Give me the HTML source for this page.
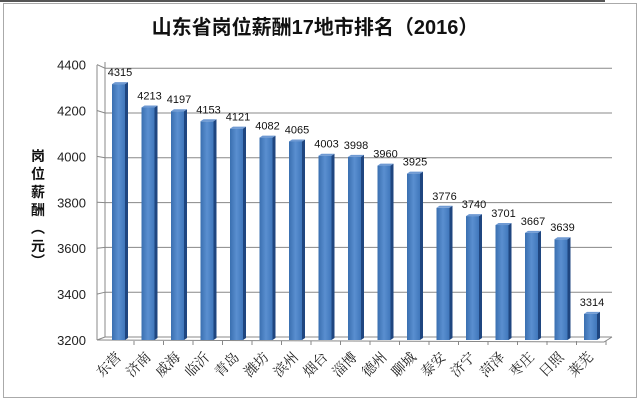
<!DOCTYPE html>
<html><head><meta charset="utf-8"><style>
html,body{margin:0;padding:0;background:#fff;width:640px;height:403px;overflow:hidden}
svg text{font-family:"Liberation Sans","Noto Sans CJK SC",sans-serif}
svg #xl text{font-family:"Liberation Serif","Noto Serif CJK SC",serif}
</style></head><body>
<svg width="640" height="403" viewBox="0 0 640 403" xmlns="http://www.w3.org/2000/svg">
<defs>
<linearGradient id="bf" x1="0" x2="1"><stop offset="0" stop-color="#3a6fb0"/><stop offset="0.5" stop-color="#5a8fd0"/><stop offset="1" stop-color="#4077bb"/></linearGradient>
</defs>
<line x1="0" y1="1" x2="605" y2="1" stroke="#555" stroke-width="2"/>
<rect x="3.5" y="3.5" width="633" height="394" fill="#fff" stroke="#aaa"/>
<text x="315" y="34" font-size="20" font-weight="bold" text-anchor="middle" fill="#111">山东省岗位薪酬17地市排名（2016）</text>
<g font-size="14" font-weight="bold" fill="#111" text-anchor="middle">
<text x="38" y="161">岗</text><text x="38" y="179">位</text><text x="38" y="197">薪</text><text x="38" y="215">酬</text><text x="38" y="233">︵</text><text x="38" y="251">元</text><text x="38" y="266">︶</text>
</g>
<g stroke="#888" stroke-width="1" fill="none" id="grid"></g>
<g font-size="13" fill="#222" text-anchor="end" id="yl"></g>
<g id="bars"></g>
<g font-size="11" fill="#111" text-anchor="middle" id="vals"></g>
<g font-size="14" fill="#222" id="xl"></g>
<script>
var ns="http://www.w3.org/2000/svg";
function el(p,t,a,txt){var e=document.createElementNS(ns,t);for(var k in a)e.setAttribute(k,a[k]);if(txt)e.textContent=txt;document.getElementById(p).appendChild(e);return e;}
for(var i=0;i<=6;i++){var v=3200+i*200;var by=337-(v-3200)*0.224;var fy=340-(v-3200)*0.2295;
el("grid","polyline",{points:"97,"+fy+" 105,"+by+" 612,"+by});
el("yl","text",{x:86,y:fy+5},""+v);}
el("grid","line",{x1:97,y1:340,x2:97,y2:65});
el("grid","line",{x1:105,y1:337,x2:105,y2:62});
el("grid","polyline",{points:"97,340 604,342 612,337"});
var d=[["东营",4315],["济南",4213],["威海",4197],["临沂",4153],["青岛",4121],["潍坊",4082],["滨州",4065],["烟台",4003],["淄博",3998],["德州",3960],["聊城",3925],["泰安",3776],["济宁",3740],["菏泽",3701],["枣庄",3667],["日照",3639],["莱芜",3314]];
d.forEach(function(r,i){var x=112+i*29.5;var top=340-(r[1]-3200)*0.2295;
el("bars","rect",{x:x,y:top,width:13,height:340-top,fill:"url(#bf)"});
el("bars","polygon",{points:(x+13)+","+top+" "+(x+16)+","+(top-2)+" "+(x+16)+","+338+" "+(x+13)+",340",fill:"#1f4680"});
el("bars","polygon",{points:x+","+top+" "+(x+3)+","+(top-2)+" "+(x+16)+","+(top-2)+" "+(x+13)+","+top,fill:"#6f9ad3"});
el("vals","text",{x:x+8,y:top-8},""+r[1]);
el("grid","line",{x1:x+22,y1:341,x2:x+22,y2:345});
var lx=x+10,ly=358;el("xl","text",{x:lx,y:ly,"text-anchor":"end",transform:"rotate(-45 "+lx+" "+ly+")"},r[0]);});
</script>
</svg>
</body></html>
